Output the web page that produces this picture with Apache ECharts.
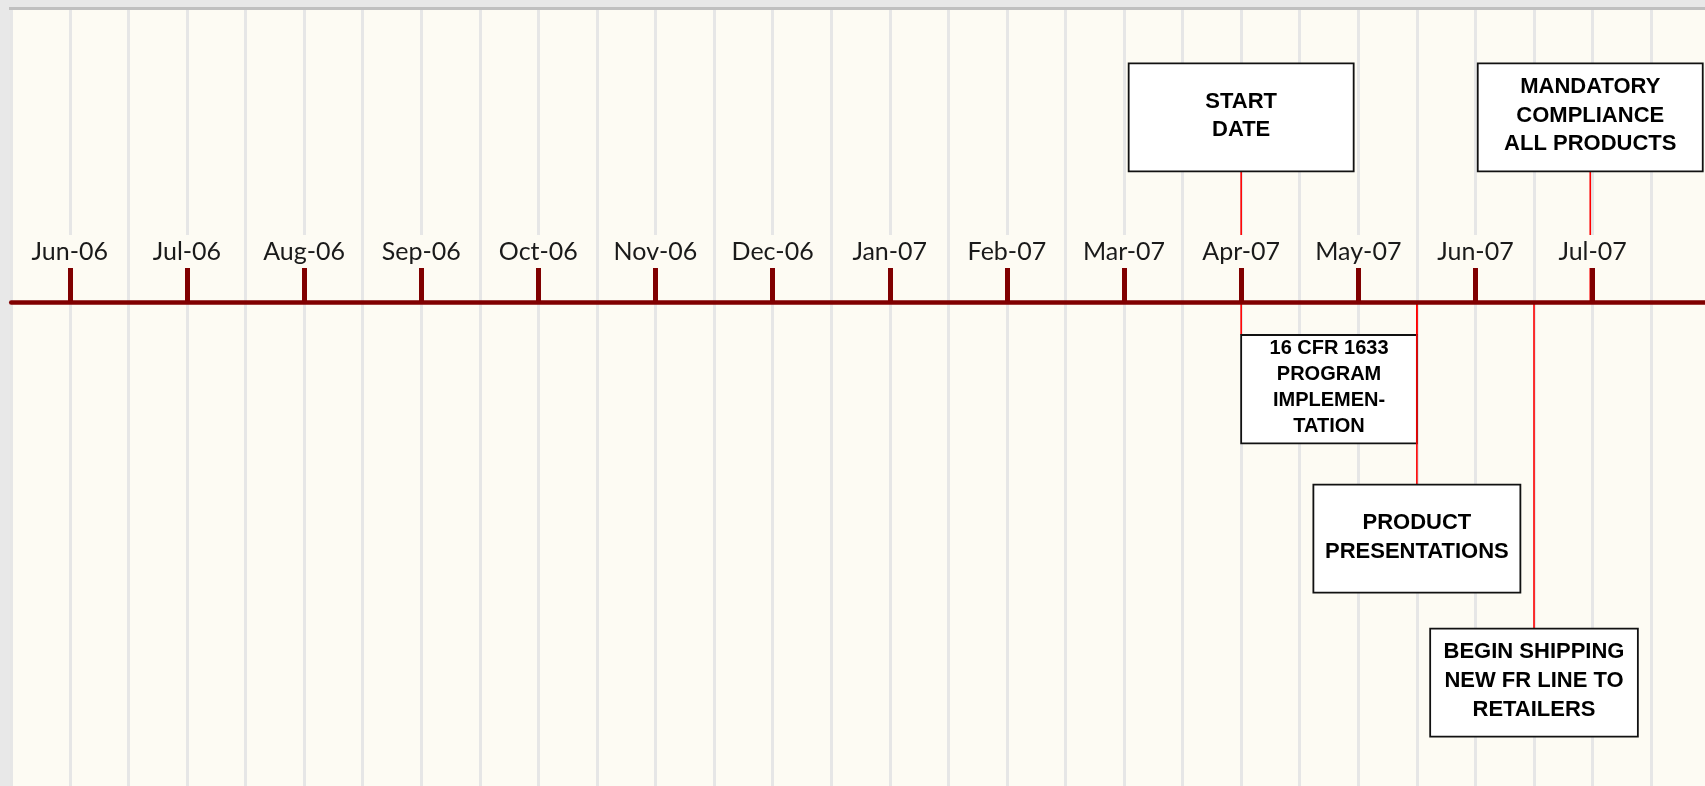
<!DOCTYPE html>
<html><head><meta charset="utf-8">
<script src="https://cdn.jsdelivr.net/npm/echarts@6/dist/echarts.min.js"></script>
<style>html,body{margin:0;padding:0;background:#e8e8e8;overflow:hidden;} #c{width:1705px;height:786px;}</style>
</head><body><div id="c"></div>
<script>
// ---- data ----
const monthLabels = ['Jun-06','Jul-06','Aug-06','Sep-06','Oct-06','Nov-06','Dec-06','Jan-07','Feb-07','Mar-07','Apr-07','May-07','Jun-07','Jul-07'];
const eventNames = ['START\nDATE','16 CFR 1633\nPROGRAM\nIMPLEMEN-\nTATION','PRODUCT\nPRESENTATIONS','BEGIN SHIPPING\nNEW FR LINE TO\nRETAILERS','MANDATORY\nCOMPLIANCE\nALL PRODUCTS'];
// event positions in months from Jun-06 (0 = Jun-06)
const eventStart = [10, 10, 11.5, 12.5, 12.98];
const eventEnd   = [10, 11.5, 11.5, 12.5, 12.98];

// ---- layout (not data) ----
const boxTop    = [238.7, -33, -182.7, -326.7, 238.7];
const boxBottom = [130.7, -141.3, -290.7, -434.7, 130.7];
const boxWidth  = [225, 0, 207, 207.7, 225];
const boxFont   = [22, 20, 22, 22, 22];
const boxLineH  = [28.5, 25.9, 29, 29, 28.4];

const tickValues = monthLabels.map((_, i) => i);
const seriesData = eventStart.map((s, i) => [s, eventEnd[i], i]);

function renderItem(params, api) {
  const i = api.value(2);
  const ps = api.coord([api.value(0), 0]);
  const pe = api.coord([api.value(1), 0]);
  const yAx = ps[1];
  const yTop = api.coord([api.value(0), boxTop[i]])[1];
  const yBot = api.coord([api.value(0), boxBottom[i]])[1];
  let left, right;
  if (boxWidth[i] > 0) { left = ps[0] - boxWidth[i] / 2; right = ps[0] + boxWidth[i] / 2; }
  else { left = ps[0]; right = pe[0]; }
  const above = yBot < yAx;
  const xs = boxWidth[i] > 0 ? [ps[0]] : [ps[0], pe[0]];
  const children = [];
  xs.forEach(cx => children.push({
    type: 'line',
    shape: { x1: cx, y1: above ? yBot : yAx, x2: cx, y2: above ? yAx : yTop },
    style: { stroke: '#ff0000', lineWidth: 1.6 }
  }));
  children.push({
    type: 'rect',
    shape: { x: left, y: yTop, width: right - left, height: yBot - yTop },
    style: { fill: '#ffffff', stroke: '#111111', lineWidth: 1.8 }
  });
  children.push({
    type: 'text',
    x: (left + right) / 2,
    y: (yTop + yBot) / 2 - 1.5,
    style: {
      text: eventNames[i],
      fontFamily: '"Liberation Sans", Arial, sans-serif',
      fontWeight: 'bold',
      fontSize: boxFont[i],
      lineHeight: boxLineH[i],
      fill: '#000000',
      align: 'center',
      verticalAlign: 'middle'
    }
  });
  return { type: 'group', children };
}

const chart = echarts.init(document.getElementById('c'), null, { renderer: 'canvas' });
chart.setOption({
  backgroundColor: '#e8e8e8',
  animation: false,
  graphic: [{ type: 'rect', shape: { x: 9, y: 7, width: 1700, height: 3 }, style: { fill: '#c0c0c0' }, z: 10 }],
  grid: [
    { left: 11.2, top: 10, width: 1757.1, height: 776, show: true, backgroundColor: '#fdfbf3', borderWidth: 0, outerBoundsMode: 'none', containLabel: false },
    { left: 11.2, top: 10, width: 1757.1, height: 292, show: false, outerBoundsMode: 'none', containLabel: false }
  ],
  xAxis: [
    {
      gridIndex: 0, type: 'value', min: -0.5, max: 14.5, interval: 0.5,
      axisLine: { show: false, onZero: false }, axisTick: { show: false }, axisLabel: { show: false },
      splitLine: { show: true, lineStyle: { color: '#e6e6e6', width: 3 } }, z: 0
    },
    {
      gridIndex: 1, type: 'value', position: 'bottom', min: -0.5, max: 14.5, interval: 0.5,
      axisLine: { show: true, onZero: false, lineStyle: { color: '#800000', width: 4.5 } },
      axisTick: { show: true, inside: true, length: 34, customValues: tickValues, lineStyle: { color: '#800000', width: 5 } },
      axisLabel: {
        show: true, inside: true, margin: 34, customValues: tickValues,
        formatter: v => (Math.abs(v - Math.round(v)) < 1e-6 && monthLabels[Math.round(v)]) || '',
        color: '#1a1a1a', fontFamily: 'Lato', fontSize: 25, lineHeight: 33,
        backgroundColor: '#fdfbf3', padding: [0, 2]
      },
      splitLine: { show: false }, z: 5
    }
  ],
  yAxis: [
    { gridIndex: 0, type: 'value', min: -484, max: 292, show: false, splitLine: { show: false } },
    { gridIndex: 1, type: 'value', min: 0, max: 1, show: false, splitLine: { show: false } }
  ],
  series: [{ type: 'custom', xAxisIndex: 0, yAxisIndex: 0, z: 3, renderItem, data: seriesData, clip: false }]
});
</script>
</body></html>
